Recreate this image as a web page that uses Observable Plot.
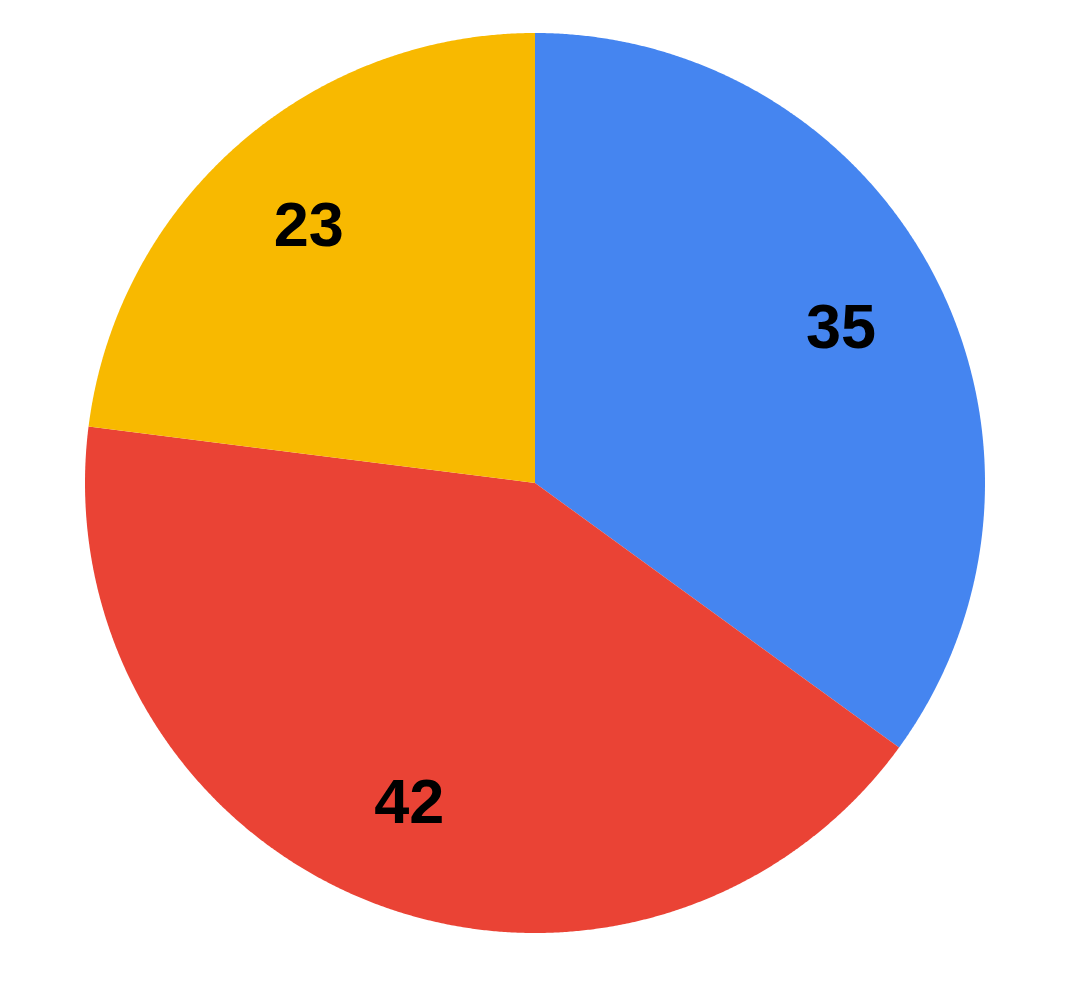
<!DOCTYPE html>
<html>
<head>
<meta charset="utf-8">
<script src="https://cdn.jsdelivr.net/npm/d3@7"></script>
<script src="https://cdn.jsdelivr.net/npm/@observablehq/plot@0.6"></script>
<style>
  html, body { margin: 0; padding: 0; background: #ffffff; }
  #chart { width: 1072px; height: 992px; }
</style>
</head>
<body>
<div id="chart"></div>
<script>
const categories = ["A", "B", "C"];
const values = [35, 42, 23];
const colors = ["#4585F0", "#EA4335", "#F8B900"];

const R = 450;
const labelR = 343;

const pie = d3.pie().sort(null).value(d => d)(values);

const slicePoints = [];
const labels = [];
pie.forEach((p, i) => {
  const name = categories[i];
  const n = Math.max(2, Math.ceil((p.endAngle - p.startAngle) / (Math.PI / 720)));
  for (let k = 0; k <= n; k++) {
    const a = p.startAngle + (p.endAngle - p.startAngle) * k / n;
    slicePoints.push({name, x: R * Math.sin(a), y: R * Math.cos(a)});
  }
  const m = (p.startAngle + p.endAngle) / 2;
  labels.push({name, value: values[i], x: labelR * Math.sin(m), y: labelR * Math.cos(m)});
});

const chart = Plot.plot({
  width: 1072,
  height: 992,
  margin: 0,
  style: {background: "#ffffff"},
  x: {domain: [-535, 537], range: [0, 1072], axis: null},
  y: {domain: [483, -509], range: [0, 992], axis: null},
  color: {domain: categories, range: colors},
  marks: [
    Plot.area(slicePoints, {x1: "x", y1: "y", x2: 0, y2: 0, z: "name", fill: "name"}),
    Plot.text(labels, {
      x: "x", y: "y", text: d => String(d.value),
      fill: "#000000", fontSize: 63, fontWeight: "bold",
      fontFamily: "'Liberation Sans', Arial, sans-serif",
      textAnchor: "middle", lineAnchor: "middle"
    })
  ]
});
document.getElementById("chart").appendChild(chart);
</script>
</body>
</html>
